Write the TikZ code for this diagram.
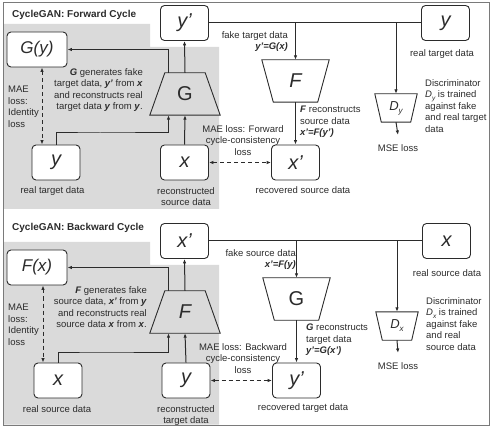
\documentclass[tikz,border=0pt]{standalone}
\usepackage{fontspec}
\setmainfont{Liberation Sans}
\usetikzlibrary{arrows.meta,calc}
\definecolor{ink}{HTML}{2B2B2B}
\definecolor{panel}{HTML}{DADADA}
\definecolor{framec}{HTML}{7A7A7A}
\newcommand{\bfit}[1]{\textbf{\textit{#1}}}
\tikzset{
 every node/.style={font=\fontsize{9.5}{11.5}\selectfont, text=ink},
 box/.style={draw=ink, line width=0.9pt, fill=white, rounded corners=4pt, minimum width=48pt, minimum height=35pt, inner sep=0pt, font=\fontsize{20}{20}\selectfont\itshape},
 widebox/.style={box, minimum width=60pt, font=\fontsize{17}{17}\selectfont\itshape},
 trapnode/.style={minimum height=42pt, inner sep=0pt, font=\fontsize{20}{20}\selectfont},
 discnode/.style={minimum height=28pt, minimum width=42pt, inner sep=0pt, font=\fontsize{13}{13}\selectfont\itshape},
 trapline/.style={draw=ink, line width=0.9pt},
 conn/.style={draw=ink, line width=1pt},
 arr/.style={conn, -{Latex[length=4.5pt,width=3.5pt]}},
 dasharr/.style={conn, dash pattern=on 4pt off 3pt, {Latex[length=4.5pt,width=3.5pt]}-{Latex[length=4.5pt,width=3.5pt]}},
 lbl/.style={inner sep=0pt, align=center},
 titlenode/.style={font=\fontsize{10}{12}\selectfont\bfseries, inner sep=0pt, anchor=west},
}
\begin{document}
\begin{tikzpicture}[x=1pt,y=-1pt]
\useasboundingbox (0,0) rectangle (492,427);
% ================= TOP PANEL =================
\fill[panel] (3,24) -- (150,24) -- (150,47) -- (219,47) -- (219,209) -- (3,209) -- cycle;
\node[titlenode] (tT) at (12,15) {CycleGAN: Forward Cycle};
\node[box] (typ) at (184.5,23) {y’};
\node[box] (tyr) at (445.5,23) {y};
\node[widebox] (tGy) at (37,49.5) {G(y)};
\node[trapnode, minimum width=70pt] (tG) at (185,94) {\raisebox{-4pt}{G}};
\draw[trapline] (tG.south west) -- ([xshift=15pt]tG.north west) -- ([xshift=-15pt]tG.north east) -- (tG.south east) -- cycle;
\node[trapnode, minimum width=67pt, font=\fontsize{20}{20}\selectfont\itshape] (tF) at (295.5,81) {\raisebox{1pt}{F}};
\draw[trapline] (tF.north west) -- (tF.north east) -- ([xshift=-11.5pt]tF.south east) -- ([xshift=11.5pt]tF.south west) -- cycle;
\node[discnode] (tD) at (396,108) {D\raisebox{-3pt}{\fontsize{8}{8}\selectfont y}};
\draw[trapline] (tD.north west) -- (tD.north east) -- ([xshift=-6.5pt]tD.south east) -- ([xshift=6.5pt]tD.south west) -- cycle;
\node[box] (tx) at (184.5,162.5) {x};
\node[box] (ty) at (56,162.5) {y};
\node[box] (txp) at (295.5,162.5) {x’};
\node (tmse) at (398,148) {MSE loss};
\coordinate (tturn) at (100,133);
\coordinate (tdash) at (42,100);
% texts
\node[lbl, anchor=north east, align=right] (tfake) at (288,31) {fake target data\\\bfit{y'=G(x)}};
\node[lbl, anchor=north east, align=right] (tdesc) at (143,68) {\bfit{G} generates fake\\target data, \bfit{y'} from \bfit{x}\\and reconstructs real\\target data \bfit{y} from \bfit{y}.};
\node[lbl, anchor=north west, align=left] (tmae) at (8,86) {MAE\\loss:\\Identity\\loss};
\node[lbl, anchor=north] (tcyc) at (243,125) {MAE loss: Forward\\cycle-consistency\\loss};
\node[lbl, anchor=north west, align=left] (trec) at (300,106) {\bfit{F} reconstructs\\source data\\\bfit{x'=F(y')}};
\node[lbl, anchor=north west, align=left] (tdisc) at (425,79) {Discriminator\\\textit{D}\raisebox{-2.5pt}{\fontsize{6.5}{6.5}\selectfont\itshape y} is trained\\against fake\\and real target\\data};
\node (trtd) at (442,54) {real target data};
\node (trsd) at (303,190) {recovered source data};
\node (trtd2) at (52.5,191) {real target data};
\node[lbl, anchor=north] (trecon) at (186,187) {reconstructed\\source data};
% connectors
\draw[conn] (typ.east) -- (tyr.west);
\draw[arr] (tF.north |- typ.east) -- (tF.north);
\draw[arr] (tD.north |- typ.east) -- (tD.north);
\draw[arr] (tG.north) -- (typ.south);
\draw[arr] ([xshift=-16.5pt]tG.north) |- (tGy.east);
\draw[arr] (tx.north) -- (tG.south);
\draw[arr] (ty.north) |- (tturn) -| ([xshift=-16.5pt]tG.south);
\draw[arr] (tF.south) -- (txp.north);
\draw[dasharr] (tx.east) -- (txp.west);
\draw[dasharr] (tGy.south -| tdash) -- (ty.north -| tdash);
\draw[arr] (tD.south) -- ([yshift=6pt]tmse.north);
% ================= BOTTOM PANEL =================
\begin{scope}[yshift=-218pt]
\fill[panel] (3,24) -- (150,24) -- (150,47) -- (219,47) -- (219,206.5) -- (3,206.5) -- cycle;
\node[titlenode] (bT) at (12,9.5) {CycleGAN: Backward Cycle};
\node[box] (bxp) at (184.5,23) {x’};
\node[box] (bxr) at (446.5,23) {x};
\node[widebox] (bFx) at (37,49.5) {F(x)};
\node[trapnode, minimum width=70pt, font=\fontsize{20}{20}\selectfont\itshape] (bF) at (185,94) {\raisebox{-4pt}{F}};
\draw[trapline] (bF.south west) -- ([xshift=15pt]bF.north west) -- ([xshift=-15pt]bF.north east) -- (bF.south east) -- cycle;
\node[trapnode, minimum width=67pt] (bG) at (296.5,81) {\raisebox{1pt}{G}};
\draw[trapline] (bG.north west) -- (bG.north east) -- ([xshift=-11.5pt]bG.south east) -- ([xshift=11.5pt]bG.south west) -- cycle;
\node[discnode] (bD) at (397,108) {D\raisebox{-3pt}{\fontsize{8}{8}\selectfont x}};
\draw[trapline] (bD.north west) -- (bD.north east) -- ([xshift=-6.5pt]bD.south east) -- ([xshift=6.5pt]bD.south west) -- cycle;
\node[box] (by) at (186,162.5) {y};
\node[box] (bx) at (58,162.5) {x};
\node[box] (byp) at (296.5,162.5) {y’};
\node (bmse) at (398,148) {MSE loss};
\coordinate (bturn) at (100,134);
\coordinate (bdash) at (43,100);
\node[lbl, anchor=north east, align=right] (bfake) at (296,31) {fake source data\\\bfit{x'=F(y)}};
\node[lbl, anchor=north east, align=right] (bdesc) at (147,68) {\bfit{F} generates fake\\source data, \bfit{x'} from \bfit{y}\\and reconstructs real\\source data \bfit{x} from \bfit{x}.};
\node[lbl, anchor=north west, align=left] (bmae) at (8,86) {MAE\\loss:\\Identity\\loss};
\node[lbl, anchor=north] (bcyc) at (243,125) {MAE loss: Backward\\cycle-consistency\\loss};
\node[lbl, anchor=north west, align=left] (brec) at (306,106) {\bfit{G} reconstructs\\target data\\\bfit{y'=G(x')}};
\node[lbl, anchor=north west, align=left] (bdisc) at (426,79) {Discriminator\\\textit{D}\raisebox{-2.5pt}{\fontsize{6.5}{6.5}\selectfont\itshape x} is trained\\against fake\\and real\\source data};
\node (brsd) at (447,55) {real source data};
\node (brtd) at (303,190) {recovered target data};
\node (brsd2) at (57,191) {real source data};
\node[lbl, anchor=north] (brecon) at (186,187) {reconstructed\\target data};
\draw[conn] (bxp.east) -- (bxr.west);
\draw[arr] (bG.north |- bxp.east) -- (bG.north);
\draw[arr] (bD.north |- bxp.east) -- (bD.north);
\draw[arr] (bF.north) -- (bxp.south);
\draw[arr] ([xshift=-16.5pt]bF.north) |- (bFx.east);
\draw[arr] (by.north) -- (bF.south);
\draw[arr] (bx.north) |- (bturn) -| ([xshift=-16.5pt]bF.south);
\draw[arr] (bG.south) -- (byp.north);
\draw[dasharr] (by.east) -- (byp.west);
\draw[dasharr] (bFx.south -| bdash) -- (bx.north -| bdash);
\draw[arr] (bD.south) -- ([yshift=6pt]bmse.north);
\end{scope}
% frame
\draw[framec, line width=1pt] (3,3) rectangle (489,425);
\end{tikzpicture}
\end{document}
